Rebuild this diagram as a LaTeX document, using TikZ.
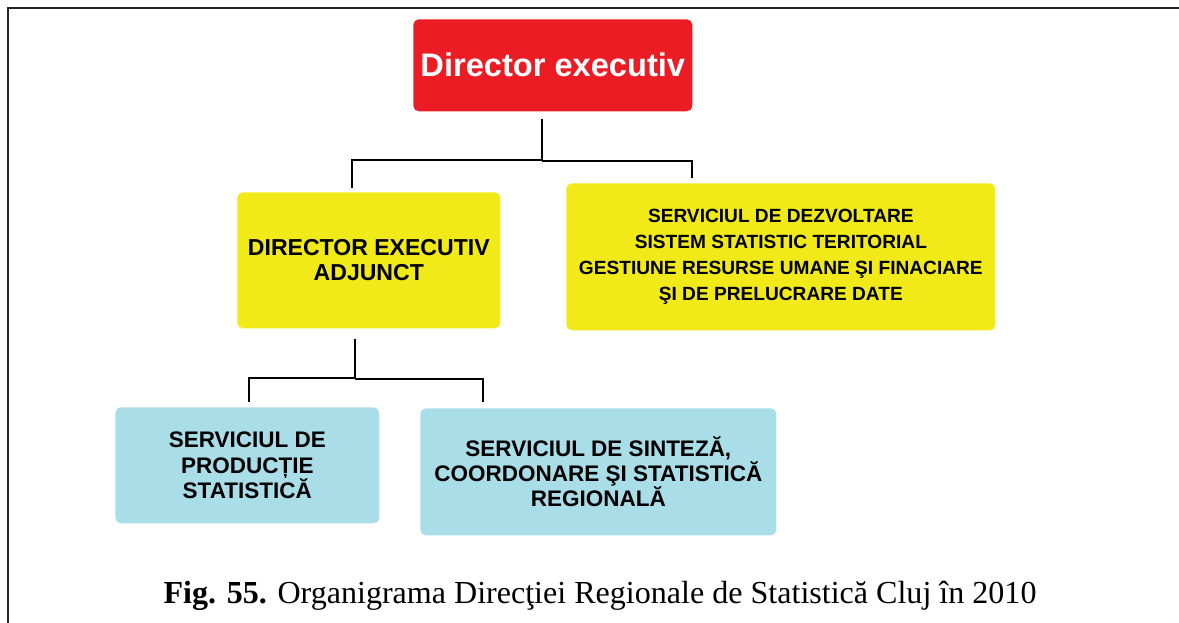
\documentclass[tikz,border=0pt]{standalone}
\usepackage{fontspec}
\setmainfont{Liberation Serif}
\newfontfamily\boxfont{Liberation Sans}
\usetikzlibrary{calc}
\definecolor{dirred}{RGB}{236,28,36}
\definecolor{srvyellow}{RGB}{241,234,24}
\definecolor{srvblue}{RGB}{169,221,231}
\tikzset{
  unitbox/.style={rectangle, rounded corners=0.14cm, inner sep=0pt, align=center, anchor=north west},
  redbox/.style={unitbox, fill=dirred, text=white, font=\boxfont\bfseries\fontsize{23.2}{27}\selectfont},
  yellowbox/.style={unitbox, fill=srvyellow, font=\boxfont\bfseries\fontsize{13.6}{18.5}\selectfont},
  bluebox/.style={unitbox, fill=srvblue, font=\boxfont\bfseries\fontsize{16}{18}\selectfont},
  link/.style={line width=1.4pt}
}
\begin{document}
\begin{tikzpicture}[x=0.025cm,y=-0.025cm]
\useasboundingbox (0,0) rectangle (1179,623);
\draw [line width=1.6pt, color=black!85] (8,623) -- (8,8) -- (1179,8);
% boxes
\node [redbox, minimum width=6.975cm, minimum height=2.3cm] (dir) at (413,19) {Director executiv};
\node [yellowbox, minimum width=6.575cm, minimum height=3.4cm, font=\boxfont\bfseries\fontsize{16.4}{18}\selectfont] (adj) at (237,192) {DIRECTOR EXECUTIV\\ADJUNCT};
\node [yellowbox, minimum width=10.725cm, minimum height=3.675cm] (serv) at (566,183) {SERVICIUL DE DEZVOLTARE\\SISTEM STATISTIC TERITORIAL\\GESTIUNE RESURSE UMANE ŞI FINACIARE\\ŞI DE PRELUCRARE DATE};
\node [bluebox, minimum width=6.6cm, minimum height=2.9cm] (prod) at (115,407) {SERVICIUL DE\\PRODUCȚIE\\STATISTICĂ};
\node [bluebox, minimum width=8.9cm, minimum height=3.175cm] (sint) at (420,408) {SERVICIUL DE SINTEZĂ,\\COORDONARE ŞI STATISTICĂ\\REGIONALĂ};
% links
\draw [link] ($(dir.south)+(-10.5,7)$) |- ($(adj.north)+(-16.5,-32)$) -- ($(adj.north)+(-16.5,-4)$);
\draw [link] ($(dir.south)+(-10.5,49)$) -| ($(serv.north)+(-88.5,-5)$);
\draw [link] ($(adj.south)+(-13.5,10)$) |- ($(prod.north)+(2,-29)$) -- ($(prod.north)+(2,-5)$);
\draw [link] ($(adj.south)+(-13.5,50)$) -| ($(sint.north)+(-115,-6)$);
% caption
\node [anchor=base, font=\fontsize{22.8}{27}\selectfont] (caption) at (600,603) {\textbf{Fig. 55.} Organigrama Direcţiei Regionale de Statistică Cluj în 2010};
\end{tikzpicture}
\end{document}
